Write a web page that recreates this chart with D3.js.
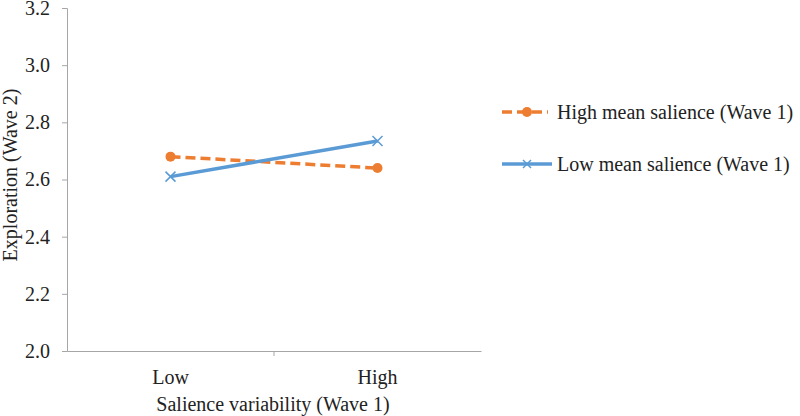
<!DOCTYPE html>
<html><head><meta charset="utf-8">
<script src="https://cdn.jsdelivr.net/npm/d3@7"></script>
<style>body{margin:0;background:#fff}svg{display:block}text{font-family:"Liberation Serif","Times New Roman",serif;fill:#222}</style>
</head><body>
<svg id="c" width="800" height="416"></svg>
<script>
const categories = ["Low", "High"];
const highMean = [2.68, 2.64];
const lowMean = [2.61, 2.735];
const yTicks = [2.0, 2.2, 2.4, 2.6, 2.8, 3.0, 3.2];
const seriesNames = ["High mean salience (Wave 1)", "Low mean salience (Wave 1)"];

const FS = "20px";
const svg = d3.select("#c");
const x = d3.scaleBand().domain(categories).range([67, 481]);
const y = d3.scaleLinear().domain([2.0, 3.2]).range([351, 8]);
const axisColor = "#a6a6a6";

// y axis
const ya = svg.append("g").attr("transform", "translate(67,0)")
  .call(d3.axisLeft(y).tickValues(yTicks).tickFormat(d3.format(".1f")).tickSize(5).tickPadding(12));
ya.select(".domain").attr("stroke", axisColor);
ya.selectAll(".tick line").attr("stroke", axisColor);
ya.selectAll(".tick text").style("font-size", FS).style("font-family", "Liberation Serif").attr("fill", "#222");

// x axis
const xa = svg.append("g").attr("transform", "translate(0,351)")
  .call(d3.axisBottom(x).tickSize(0).tickPadding(19));
xa.select(".domain").attr("stroke", axisColor);
xa.selectAll(".tick text").style("font-size", FS).style("font-family", "Liberation Serif").attr("fill", "#222");
// category boundary tick
svg.append("line").attr("x1", x("High")).attr("x2", x("High"))
  .attr("y1", 351).attr("y2", 356).attr("stroke", axisColor);

const cx = d => x(d) + x.bandwidth() / 2;
const line = d3.line().x((d, i) => cx(categories[i])).y(d => y(d));

const orange = "#ED7D31", blue = "#5B9BD5";

svg.append("path").datum(highMean).attr("d", line).attr("fill", "none")
  .attr("stroke", orange).attr("stroke-width", 3.5).attr("stroke-dasharray", "10,5");
svg.append("path").datum(lowMean).attr("d", line).attr("fill", "none")
  .attr("stroke", blue).attr("stroke-width", 3.5);

svg.selectAll(".om").data(highMean).enter().append("circle")
  .attr("cx", (d, i) => cx(categories[i])).attr("cy", d => y(d)).attr("r", 5).attr("fill", orange);

const xm = (g, px, py, s) => {
  g.append("path").attr("d", `M${px-s},${py-s}L${px+s},${py+s}M${px-s},${py+s}L${px+s},${py-s}`)
    .attr("stroke", blue).attr("stroke-width", 1.5).attr("fill", "none");
};
lowMean.forEach((d, i) => xm(svg, cx(categories[i]), y(d), 5));

// axis titles
svg.append("text").attr("transform", "translate(17,175) rotate(-90)").attr("text-anchor", "middle")
  .style("font-size", FS).text("Exploration (Wave 2)");
svg.append("text").attr("x", 273).attr("y", 411).attr("text-anchor", "middle")
  .style("font-size", FS).text("Salience variability (Wave 1)");

// legend
const lg = svg.append("g");
lg.append("line").attr("x1", 502).attr("x2", 548).attr("y1", 112).attr("y2", 112)
  .attr("stroke", orange).attr("stroke-width", 3.5).attr("stroke-dasharray", "10,5");
lg.append("circle").attr("cx", 527).attr("cy", 112).attr("r", 5).attr("fill", orange);
lg.append("text").attr("x", 557).attr("y", 119).style("font-size", FS).text(seriesNames[0]);
lg.append("line").attr("x1", 502).attr("x2", 552).attr("y1", 164).attr("y2", 164)
  .attr("stroke", blue).attr("stroke-width", 3.5);
xm(lg, 527, 164, 4);
lg.append("text").attr("x", 557).attr("y", 171).style("font-size", FS).text(seriesNames[1]);
</script>
</body></html>
